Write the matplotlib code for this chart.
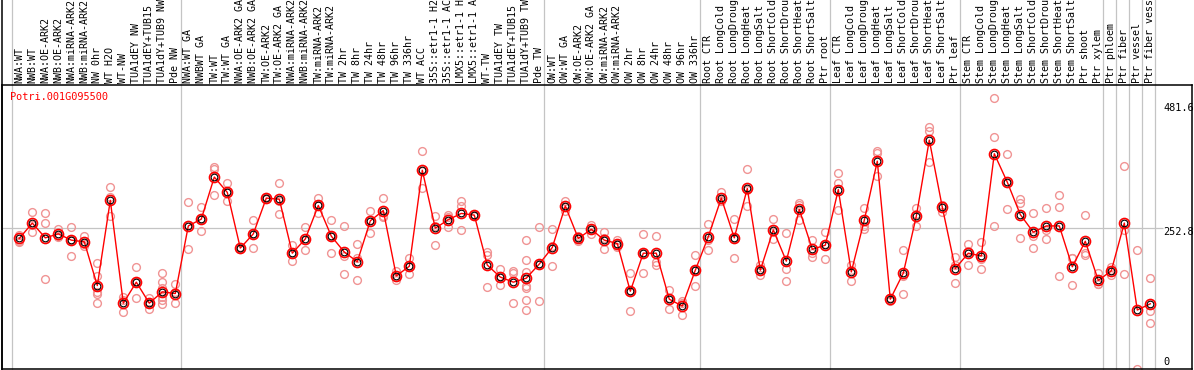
import matplotlib
matplotlib.use('Agg')
import matplotlib.pyplot as plt
from matplotlib.lines import Line2D
import matplotlib.transforms as mtransforms

# ------------------- data -------------------
gene = 'Potri.001G095500'

samples = [
    'NWA:WT', 'NWB:WT', 'NWA:OE-ARK2', 'NWB:OE-ARK2', 'NWA:miRNA-ARK2', 'NWB:miRNA-ARK2',
    'NW 0hr', 'WT H2O', 'WT-NW', 'TUA1dEY NW', 'TUA1dEY+TUB15 NW', 'TUA1dY+TUB9 NW', 'Pde NW',
    'NWA:WT GA', 'NWBWT GA', 'TW:WT', 'TW:WT GA', 'NWA:OE-ARK2 GA', 'NWB:OE-ARK2 GA',
    'TW:OE-ARK2', 'TW:OE-ARK2 GA', 'NWA:miRNA-ARK2 GA', 'NWB:miRNA-ARK2 GA', 'TW:miRNA-ARK2',
    'TW:miRNA-ARK2 GA', 'TW 2hr', 'TW 8hr', 'TW 24hr', 'TW 48hr', 'TW 96hr', 'TW 336hr',
    'WT ACC', '35S::etr1-1 H2O', '35S::etr1-1 ACC', 'LMX5::etr1-1 H2O', 'LMX5::etr1-1 ACC',
    'WT-TW', 'TUA1dEY TW', 'TUA1dEY+TUB15 TW', 'TUA1dY+TUB9 TW', 'Pde TW',
    'OW:WT', 'OW:WT GA', 'OW:OE-ARK2', 'OW:OE-ARK2 GA', 'OW:miRNA-ARK2', 'OW:miRNA-ARK2 GA',
    'OW 2hr', 'OW 8hr', 'OW 24hr', 'OW 48hr', 'OW 96hr', 'OW 336hr',
    'Root CTR', 'Root LongCold', 'Root LongDrought', 'Root LongHeat', 'Root LongSalt',
    'Root ShortCold', 'Root ShortDrought', 'Root ShortHeat', 'Root ShortSalt', 'Ptr root',
    'Leaf CTR', 'Leaf LongCold', 'Leaf LongDrought', 'Leaf LongHeat', 'Leaf LongSalt',
    'Leaf ShortCold', 'Leaf ShortDrought', 'Leaf ShortHeat', 'Leaf ShortSalt', 'Ptr leaf',
    'Stem CTR', 'Stem LongCold', 'Stem LongDrought', 'Stem LongHeat', 'Stem LongSalt',
    'Stem ShortCold', 'Stem ShortDrought', 'Stem ShortHeat', 'Stem ShortSalt', 'Ptr shoot',
    'Ptr xylem', 'Ptr phloem', 'Ptr fiber', 'Ptr vessel', 'Ptr fiber vessel',
]

means = [
    235, 262, 236, 243, 232, 229, 152, 302, 121, 158, 121, 141, 138,
    257, 269, 343, 316, 218, 243, 306, 304, 209, 234, 293, 239, 211, 194, 266, 284, 169,
    186, 355, 253, 268, 279, 276, 188, 167, 158, 165, 190,
    219, 292, 235, 251, 232, 226, 142, 209, 209, 128, 116, 179,
    238, 306, 236, 323, 179, 250, 195, 286, 216, 223,
    321, 176, 267, 371, 128, 174, 274, 408, 290, 182,
    209, 204, 384, 334, 277, 246, 257, 257, 185, 230, 161, 178,
    262, 109, 120,
]

reps = [
    [241, 231, 229], [281, 247, 258], [279, 262, 164], [252, 238, 240], [255, 204, 232],
    [240, 222, 226], [191, 168, 141, 137, 121], [325, 308, 275], [132, 105, 126],
    [185, 130, 158], [131, 110, 122], [174, 158, 148, 132, 127, 119], [155, 121, 140],
    [299, 216, 258], [290, 248, 269], [361, 358, 311], [332, 300, 316], [220, 216, 218],
    [267, 218, 243], [308, 304, 306], [332, 278, 301], [223, 195, 210], [255, 215, 233],
    [306, 280, 294], [267, 209, 240], [256, 204, 172], [225, 200, 162], [284, 244, 268],
    [307, 272, 275], [178, 162, 167], [200, 172, 187], [388, 323, 354], [274, 223, 257],
    [276, 273, 255], [300, 292, 250], [277, 274, 276], [211, 206, 149], [181, 168, 153],
    [178, 175, 121], [232, 197, 176, 152, 148, 127, 109], [255, 125, 190],
    [251, 186, 221], [301, 284, 291], [240, 231, 235], [259, 242, 252], [246, 216, 235],
    [233, 220, 226], [175, 108, 142], [242, 174, 210], [240, 194, 188], [145, 110, 130],
    [124, 101, 121], [205, 152, 179],
    [260, 232, 215], [317, 300, 301], [269, 201, 236], [358, 292, 320], [188, 171, 178],
    [269, 234, 247], [244, 182, 160], [298, 267, 293], [232, 209, 203], [246, 198, 226],
    [350, 332, 285], [188, 160, 180], [288, 257, 251], [389, 385, 344], [124, 130, 131],
    [215, 168, 137], [288, 257, 278], [431, 424, 370], [294, 282, 293], [202, 156, 189],
    [226, 188, 212], [229, 182, 199], [482, 413, 257], [384, 286, 333], [304, 298, 235],
    [279, 239, 219], [288, 249, 234], [311, 290, 169], [200, 153, 201], [277, 209, 206],
    [175, 154, 155], [185, 171, 179], [362, 250, 172], [215, 6], [165, 108, 87],
]

# first sample of each group (grey separators)
group_starts = [0, 13, 41, 53, 63, 73, 84, 85, 86, 87, 88]
ref_value = 252.8
axis_labels = ['481.6', '252.8', '0']
axis_values = [481.6, 252.8, 0]

# ------------------- plot -------------------
W, H = 1194, 370
fig = plt.figure(figsize=(W / 100, H / 100), dpi=100)
ax = fig.add_axes([2 / W, 1 / H, 1190 / W, 284 / H])
ax.set_xlim(-1.331, 90.208)
ax.set_ylim(5.2, 505.0)
ax.set_xticks([])
ax.set_yticks([])
for s in ax.spines.values():
    s.set_color('black')
    s.set_linewidth(1.1)

mono = 'DejaVu Sans Mono'
grey = '#c4c4c4'

# separators reach through the label area
top_ax = (H - 1) / 284
for g in group_starts:
    ax.axvline(g - 0.6, ymin=0, ymax=top_ax, color=grey, lw=0.9, clip_on=False, zorder=1)
ax.hlines(ref_value, -1.331, 87.98, color=grey, lw=0.9, zorder=1)

# left border over full height
fig.add_artist(Line2D([1.5 / W, 1.5 / W], [0, 1], color='black', lw=1.1))

x = list(range(len(means)))
for i, r in enumerate(reps):
    ax.plot([i] * len(r), r, 'o', ms=5.6, mfc='none', mec='#f09494', mew=1.0, zorder=2, clip_on=False)
ax.plot(x, means, '-', color='#ff0000', lw=1.0, zorder=3)
ax.plot(x, means, 'o', ms=7.2, mfc='none', mec='#ff0000', mew=1.2, zorder=4)
ax.plot(x, means, 'o', ms=4.8, mfc='none', mec='black', mew=0.8, zorder=5)

# sample labels (vertical)
lab_y = (369 - 83) / 284
for i, name in enumerate(samples):
    ax.text(i, lab_y, name, rotation=90, ha='center', va='bottom', fontsize=7.2,
            family=mono, transform=ax.get_xaxis_transform(), clip_on=False)

ax.text(8 / 1190, (369 - 97) / 284, gene, color='red', fontsize=7.4, family=mono,
        ha='left', va='center', transform=ax.transAxes)

trans = mtransforms.blended_transform_factory(ax.transAxes, ax.transData)
offsets = [-7, -2.7, 7]
for lab, v, off in zip(axis_labels, axis_values, offsets):
    ax.annotate(lab, xy=(1161 / 1190, v), xycoords=trans, xytext=(0, off),
                textcoords='offset points', ha='left', va='center',
                fontsize=7.4, family=mono, annotation_clip=False)

fig.savefig('out.png', dpi=100)
